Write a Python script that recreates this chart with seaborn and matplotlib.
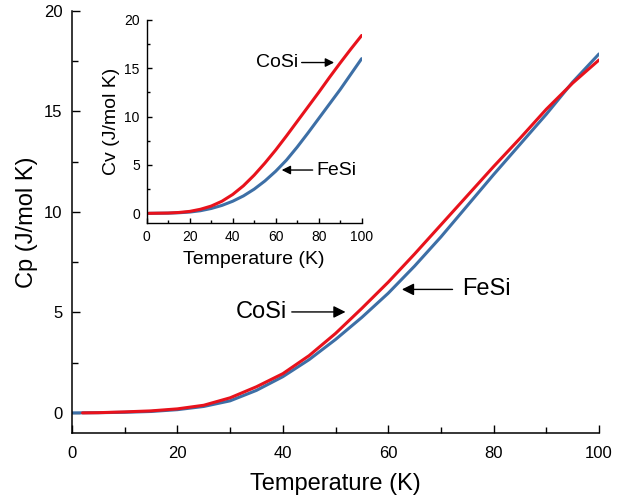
import matplotlib
matplotlib.use("Agg")
import matplotlib.pyplot as plt
from matplotlib.ticker import MultipleLocator
import seaborn as sns
import pandas as pd

# ---- data ----
# main panel: Cp (J/mol K) vs temperature (K)
T_main_cosi = [2, 5, 10, 15, 20, 25, 30, 35, 40, 45, 50, 55, 60, 65, 70, 75, 80, 85, 90, 95, 100]
cp_cosi = [0.0, 0.01, 0.05, 0.1, 0.2, 0.38, 0.75, 1.3, 1.95, 2.85, 3.95, 5.2, 6.5, 7.9, 9.35,
           10.8, 12.25, 13.65, 15.1, 16.4, 17.55]
T_main_fesi = [0, 5, 10, 15, 20, 25, 30, 35, 40, 45, 50, 55, 60, 65, 70, 75, 80, 85, 90, 95, 100]
cp_fesi = [0.0, 0.01, 0.03, 0.07, 0.16, 0.32, 0.6, 1.12, 1.8, 2.65, 3.65, 4.75, 5.95, 7.3, 8.75,
           10.3, 11.85, 13.35, 14.85, 16.45, 17.85]

# inset: Cv (J/mol K) vs temperature (K)
T_inset = [1, 10, 15, 20, 25, 30, 35, 40, 45, 50, 55, 60, 65, 70, 75, 80, 85, 90, 95, 100]
cv_cosi = [0.0, 0.03, 0.09, 0.2, 0.42, 0.75, 1.25, 1.95, 2.85, 3.95, 5.2, 6.55, 8.0, 9.5, 11.0,
           12.5, 14.05, 15.55, 17.0, 18.4]
cv_fesi = [0.0, 0.02, 0.06, 0.13, 0.27, 0.5, 0.82, 1.25, 1.8, 2.5, 3.35, 4.35, 5.5, 6.85, 8.3,
           9.8, 11.3, 12.8, 14.4, 16.0]

colors = {"CoSi": "#e8121c", "FeSi": "#3d6fa6"}

df_main = pd.concat([
    pd.DataFrame({"T": T_main_fesi, "C": cp_fesi, "mat": "FeSi"}),
    pd.DataFrame({"T": T_main_cosi, "C": cp_cosi, "mat": "CoSi"}),
], ignore_index=True)
df_inset = pd.concat([
    pd.DataFrame({"T": T_inset, "C": cv_fesi, "mat": "FeSi"}),
    pd.DataFrame({"T": T_inset, "C": cv_cosi, "mat": "CoSi"}),
], ignore_index=True)

sns.set_style("ticks")
plt.rcParams["font.family"] = ["Liberation Sans", "DejaVu Sans"]
plt.rcParams.update({
    "axes.edgecolor": "black", "xtick.color": "black", "ytick.color": "black",
    "text.color": "black", "axes.labelcolor": "black",
})

fig = plt.figure(figsize=(6.34, 5.0), dpi=100)
ax = fig.add_axes([0.1136, 0.134, 0.8312, 0.8446])
sns.lineplot(data=df_main, x="T", y="C", hue="mat", hue_order=["FeSi", "CoSi"],
             palette=colors, lw=2.2, legend=False, ax=ax, sort=True)
ax.set_xlim(0, 100)
ax.set_ylim(-1, 20)
ax.xaxis.set_major_locator(MultipleLocator(20))
ax.xaxis.set_minor_locator(MultipleLocator(10))
ax.yaxis.set_major_locator(MultipleLocator(5))
ax.yaxis.set_minor_locator(MultipleLocator(2.5))
ax.tick_params(which="major", direction="in", length=6, width=1, labelsize=12)
ax.tick_params(axis="x", which="major", pad=9)
ax.tick_params(axis="y", which="major", pad=7)
ax.tick_params(which="minor", direction="in", length=4, width=1)
for s in ["top", "right"]:
    ax.spines[s].set_visible(False)
for s in ["left", "bottom"]:
    ax.spines[s].set_linewidth(1.1)
ax.set_xlabel("Temperature (K)", fontsize=17, labelpad=9)
ax.set_ylabel("Cp (J/mol K)", fontsize=17, labelpad=4)

arrow = dict(arrowstyle="-|>", color="black", lw=1, mutation_scale=18, shrinkA=0, shrinkB=0)
ax.text(40.8, 5.02, "CoSi", ha="right", va="center", fontsize=17)
ax.annotate("", xy=(51.9, 5.02), xytext=(41.7, 5.02), arrowprops=arrow)
ax.text(74.0, 6.14, "FeSi", ha="left", va="center", fontsize=17)
ax.annotate("", xy=(62.6, 6.14), xytext=(72.2, 6.14), arrowprops=arrow)

# ---- inset ----
axi = fig.add_axes([0.2314, 0.554, 0.339, 0.406])
sns.lineplot(data=df_inset, x="T", y="C", hue="mat", hue_order=["FeSi", "CoSi"],
             palette=colors, lw=2.2, legend=False, ax=axi, sort=True)
axi.set_xlim(0, 100)
axi.set_ylim(-1, 20)
axi.xaxis.set_major_locator(MultipleLocator(20))
axi.xaxis.set_minor_locator(MultipleLocator(10))
axi.yaxis.set_major_locator(MultipleLocator(5))
axi.yaxis.set_minor_locator(MultipleLocator(2.5))
axi.tick_params(which="major", direction="in", length=3.5, width=1, labelsize=10, pad=5)
axi.tick_params(which="minor", direction="in", length=2.2, width=1)
for s in ["top", "right"]:
    axi.spines[s].set_visible(False)
for s in ["left", "bottom"]:
    axi.spines[s].set_linewidth(1.0)
axi.set_xlabel("Temperature (K)", fontsize=14, labelpad=5)
axi.set_ylabel("Cv (J/mol K)", fontsize=14, labelpad=3)

arrow_i = dict(arrowstyle="-|>", color="black", lw=1, mutation_scale=13, shrinkA=0, shrinkB=0)
axi.text(70.5, 15.6, "CoSi", ha="right", va="center", fontsize=14)
axi.annotate("", xy=(87.2, 15.6), xytext=(72.1, 15.6), arrowprops=arrow_i)
axi.text(79.1, 4.48, "FeSi", ha="left", va="center", fontsize=14)
axi.annotate("", xy=(62.8, 4.48), xytext=(77.2, 4.48), arrowprops=arrow_i)

fig.savefig("out.png", dpi=100)
